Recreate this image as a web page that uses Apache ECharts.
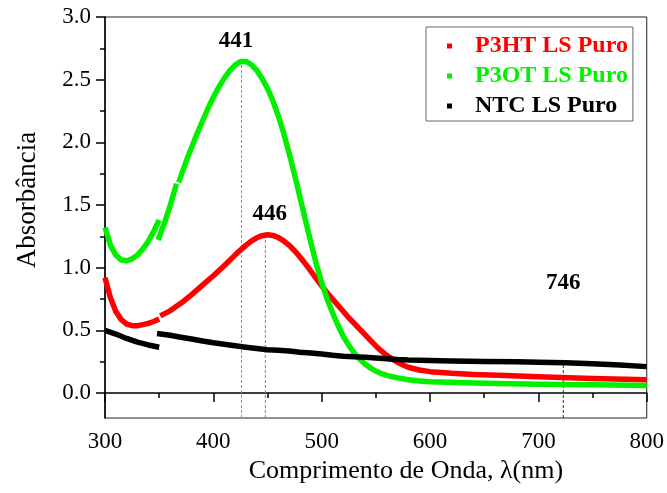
<!DOCTYPE html>
<html>
<head>
<meta charset="utf-8">
<script src="https://cdn.jsdelivr.net/npm/echarts@6/dist/echarts.min.js"></script>
<style>
  html, body { margin: 0; padding: 0; background: #fff; }
  #chart { width: 667px; height: 493px; }
</style>
</head>
<body>
<div id="chart"></div>
<script>
// UV-Vis absorption spectra of the LS films (wavelength in nm, absorbance)
const p3htSeg1Nm  = [300, 305, 310, 315, 320, 325, 330, 335, 340, 345, 350];
const p3htSeg1Abs = [0.92, 0.76, 0.65, 0.585, 0.55, 0.537, 0.537, 0.545, 0.555, 0.57, 0.59];
const p3htSeg2Nm  = [351, 360, 370, 380, 390, 400, 410, 420, 425, 430, 435, 440, 445, 450, 455, 460, 465, 470, 475, 480, 485, 490, 495, 500, 505, 510, 515, 520, 525, 530, 535, 540, 545, 550, 555, 560, 565, 570, 575, 580, 590, 600, 620, 640, 670, 700, 750, 800];
const p3htSeg2Abs = [0.615, 0.655, 0.715, 0.785, 0.86, 0.935, 1.015, 1.10, 1.14, 1.178, 1.212, 1.238, 1.255, 1.262, 1.257, 1.24, 1.213, 1.178, 1.135, 1.085, 1.03, 0.972, 0.913, 0.855, 0.80, 0.75, 0.70, 0.65, 0.60, 0.555, 0.51, 0.465, 0.42, 0.375, 0.335, 0.30, 0.27, 0.245, 0.223, 0.205, 0.183, 0.17, 0.157, 0.148, 0.14, 0.13, 0.115, 0.105];

const p3otSeg1Nm  = [300, 305, 310, 315, 320, 325, 330, 335, 340, 345, 350];
const p3otSeg1Abs = [1.32, 1.18, 1.10, 1.06, 1.055, 1.07, 1.10, 1.15, 1.21, 1.29, 1.38];
const p3otSeg2Nm  = [349, 355, 360, 366];
const p3otSeg2Abs = [1.22, 1.36, 1.49, 1.67];
const p3otSeg3Nm  = [368, 375, 380, 385, 390, 395, 400, 405, 410, 415, 420, 425, 430, 435, 440, 445, 450, 455, 460, 465, 470, 475, 480, 485, 490, 495, 500, 505, 510, 515, 520, 525, 530, 535, 540, 545, 550, 555, 560, 570, 580, 590, 600, 650, 700, 750, 800];
const p3otSeg3Abs = [1.68, 1.85, 1.96, 2.07, 2.17, 2.27, 2.36, 2.44, 2.51, 2.57, 2.615, 2.645, 2.645, 2.62, 2.575, 2.51, 2.43, 2.33, 2.21, 2.07, 1.91, 1.74, 1.56, 1.38, 1.20, 1.03, 0.88, 0.75, 0.64, 0.54, 0.45, 0.38, 0.32, 0.27, 0.23, 0.20, 0.175, 0.155, 0.14, 0.12, 0.105, 0.095, 0.09, 0.078, 0.07, 0.065, 0.06];

const ntcSeg1Nm  = [300, 310, 320, 330, 340, 350];
const ntcSeg1Abs = [0.50, 0.47, 0.435, 0.405, 0.383, 0.365];
const ntcSeg2Nm  = [348, 360, 370, 380, 390, 400, 410, 420, 430, 440, 450, 460, 470, 480, 490, 500, 510, 520, 530, 540, 550, 560, 570, 580, 600, 620, 650, 680, 700, 725, 750, 775, 800];
const ntcSeg2Abs = [0.475, 0.46, 0.445, 0.43, 0.415, 0.40, 0.388, 0.376, 0.365, 0.355, 0.345, 0.34, 0.335, 0.325, 0.318, 0.31, 0.30, 0.292, 0.288, 0.284, 0.278, 0.272, 0.266, 0.262, 0.258, 0.255, 0.25, 0.248, 0.245, 0.24, 0.232, 0.222, 0.21];

// Peak markers: dashed drop lines and their annotations
const peakNm       = [426, 448, 723];
const peakAbs      = [2.645, 1.262, 0.24];
const peakColors   = ['#22e022', '#ff4a4a', '#333333'];
const peakText     = ['441', '446', '746'];
const peakTextNm   = [421, 452, 723];
const peakTextAbs  = [2.81, 1.43, 0.875];

// Axis ticks
const xMin = 300, xMax = 800, xStep = 100;
const yMin = -0.2, yMax = 3.0;
const yMajorTicks = [0, 0.5, 1.0, 1.5, 2.0, 2.5, 3.0];
const yMinorTicks = [0.25, 0.75, 1.25, 1.75, 2.25, 2.75];

const seriesNames = ['P3HT LS Puro', 'P3OT LS Puro', 'NTC LS Puro'];
const seriesColors = ['#ff0000', '#00f000', '#000000'];

const zip = (xs, ys) => xs.map((x, i) => [x, ys[i]]);
const FONT = '"Liberation Serif", "Times New Roman", serif';

function curve(name, color, xs, ys) {
  return {
    type: 'line', name: name, data: zip(xs, ys),
    smooth: false, showSymbol: false, symbol: 'rect', symbolSize: 5,
    lineStyle: { color: color, width: 5.5, join: 'round' }, itemStyle: { color: color },
    z: 3, silent: true
  };
}

const series = [
  curve(seriesNames[0], seriesColors[0], p3htSeg1Nm, p3htSeg1Abs),
  curve(seriesNames[0], seriesColors[0], p3htSeg2Nm, p3htSeg2Abs),
  curve(seriesNames[1], seriesColors[1], p3otSeg1Nm, p3otSeg1Abs),
  curve(seriesNames[1], seriesColors[1], p3otSeg2Nm, p3otSeg2Abs),
  curve(seriesNames[1], seriesColors[1], p3otSeg3Nm, p3otSeg3Abs),
  curve(seriesNames[2], seriesColors[2], ntcSeg1Nm, ntcSeg1Abs),
  curve(seriesNames[2], seriesColors[2], ntcSeg2Nm, ntcSeg2Abs)
];

peakNm.forEach((nm, i) => {
  series.push({
    type: 'line', data: [[nm, yMin], [nm, peakAbs[i]]],
    showSymbol: false, silent: true, z: 2,
    lineStyle: { color: peakColors[i], width: 1, type: [3, 2] }
  });
});

series.push({
  type: 'scatter', silent: true, symbolSize: 0, z: 5,
  itemStyle: { color: '#000' },
  data: peakTextNm.map((nm, i) => [nm, peakTextAbs[i], peakText[i]]),
  label: {
    show: true, position: 'inside',
    formatter: p => p.data[2],
    fontFamily: FONT, fontWeight: 'bold', fontSize: 23, color: '#000',
    textBorderWidth: 0, opacity: 1
  }
});

const chart = echarts.init(document.getElementById('chart'), null, { renderer: 'canvas' });
chart.setOption({
  animation: false,
  backgroundColor: '#fff',
  textStyle: { fontFamily: FONT },
  grid: {
    left: 105, right: 19, top: 17, bottom: 75,
    show: true, borderColor: '#222', borderWidth: 1, backgroundColor: 'transparent'
  },
  legend: {
    orient: 'vertical', left: 426, top: 27,
    padding: [7, 5, 3, 21],
    borderColor: '#666', borderWidth: 1,
    icon: 'rect', itemWidth: 5, itemHeight: 5, itemGap: 6,
    selectedMode: false,
    textStyle: {
      fontFamily: FONT, fontWeight: 'bold', fontSize: 24, lineHeight: 24,
      padding: [0, 0, 0, 18]
    },
    data: seriesNames.map((n, i) => ({
      name: n, itemStyle: { color: seriesColors[i] },
      textStyle: { color: seriesColors[i] }
    }))
  },
  xAxis: {
    type: 'value', min: xMin, max: xMax, interval: xStep,
    name: 'Comprimento de Onda, λ(nm)', nameLocation: 'middle', nameGap: 38,
    nameTextStyle: { fontFamily: FONT, fontSize: 26, color: '#000', padding: [0, 0, 0, 60] },
    axisLine: { lineStyle: { color: '#000', width: 1.5 } },
    axisTick: { inside: false, length: 9, lineStyle: { color: '#000', width: 1.5 } },
    minorTick: { show: true, splitNumber: 2, length: 5, lineStyle: { color: '#000', width: 1.5 } },
    axisLabel: { fontFamily: FONT, fontSize: 23, color: '#000', margin: 12 },
    splitLine: { show: false }
  },
  yAxis: [
    {
      type: 'value', min: yMin, max: yMax,
      name: 'Absorbância', nameLocation: 'middle', nameGap: 64, nameRotate: 90,
      nameTextStyle: { fontFamily: FONT, fontSize: 27, color: '#000', padding: [0, 0, 0, 35] },
      axisLine: { show: true, lineStyle: { color: '#000', width: 1.5 } },
      axisTick: { show: true, inside: false, length: 9, customValues: yMajorTicks, lineStyle: { color: '#000', width: 1.5 } },
      axisLabel: {
        fontFamily: FONT, fontSize: 23, color: '#000', margin: 14,
        customValues: yMajorTicks, formatter: v => v.toFixed(1)
      },
      splitLine: { show: false }
    },
    {
      type: 'value', min: yMin, max: yMax, position: 'left',
      axisLine: { show: false },
      axisTick: { show: true, inside: false, length: 5, customValues: yMinorTicks, lineStyle: { color: '#000', width: 1.5 } },
      axisLabel: { show: false },
      splitLine: { show: false }
    }
  ],
  series: series
});
</script>
</body>
</html>
